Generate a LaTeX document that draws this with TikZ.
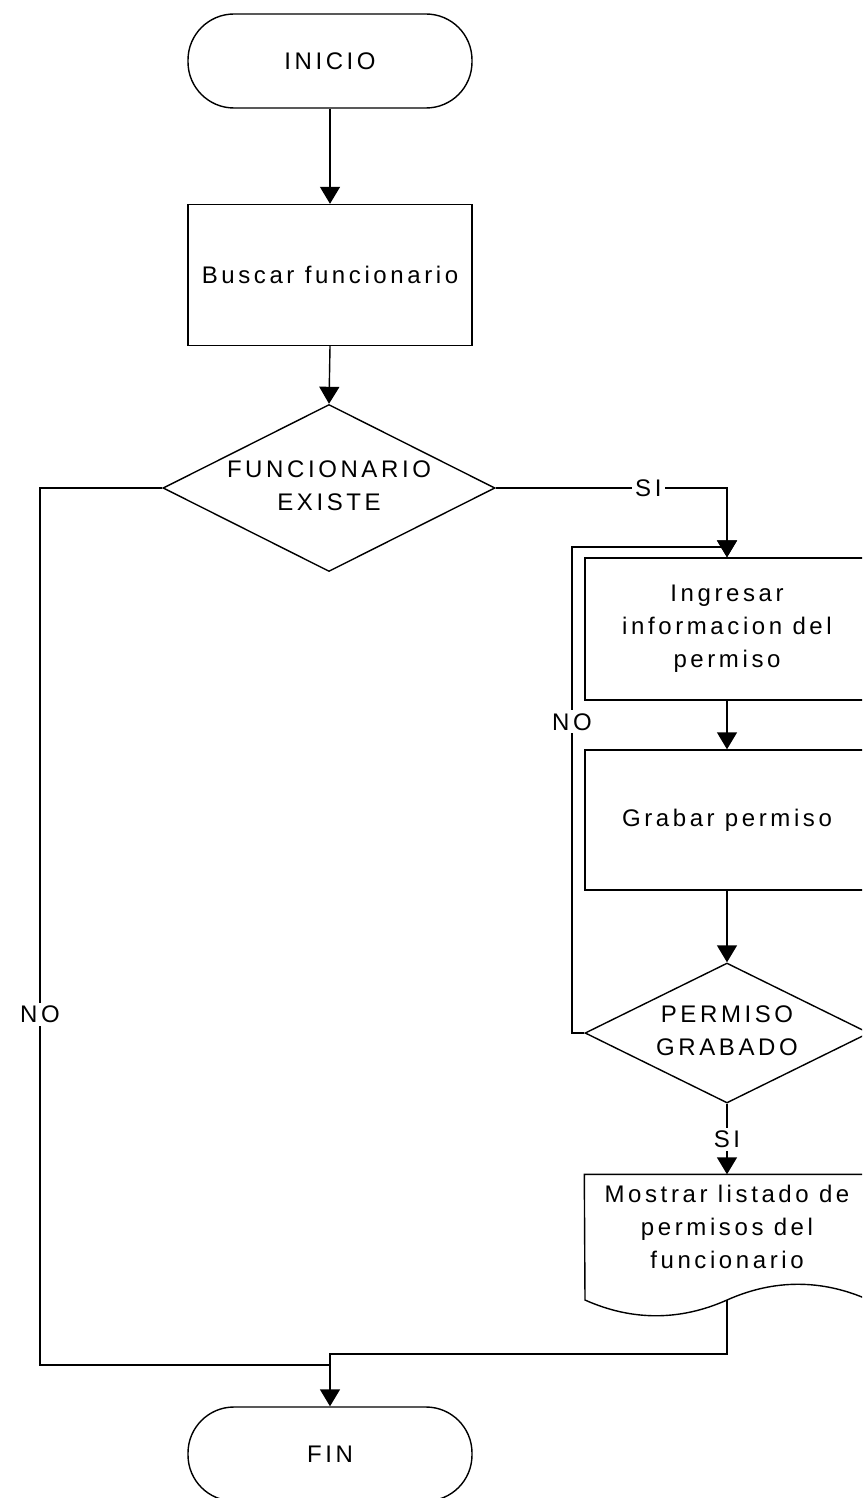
\documentclass[tikz,border=0pt]{standalone}
\usepackage{fontspec}
\setmainfont{Liberation Sans}[LetterSpace=15]
\usetikzlibrary{shapes.geometric,arrows.meta}
\begin{document}
\begin{tikzpicture}[x=1pt,y=-1pt,
  line width=1.4pt,
  every node/.style={font=\fontsize{24}{33}\selectfont},
  term/.style={draw, rectangle, rounded corners=46pt, minimum width=284pt, minimum height=94pt, inner sep=0pt},
  procbox/.style={draw, rectangle, minimum width=284pt, inner sep=0pt, align=center},
  dia/.style={draw, diamond, inner sep=0pt},
  txt/.style={align=center, inner sep=0pt},
  lab/.style={fill=white, inner sep=3pt},
  arr/.style={-{Triangle[width=20pt,length=17pt]}}
]
\useasboundingbox (0,0) rectangle (862,1498);
\clip (0,0) rectangle (862,1498);
% nodes
\node[term] (ini) at (330,61) {INICIO};
\node[procbox, minimum height=141pt] (bus) at (330,275) {Buscar funcionario};
\node[dia, minimum width=332pt, minimum height=167pt] (d1) at (329,488) {};
\node[txt] (d1t) at (329,486) {FUNCIONARIO\\EXISTE};
\node[procbox, minimum height=142pt] (ing) at (727,629) {Ingresar\\informacion del\\permiso};
\node[procbox, minimum height=140pt] (gra) at (727,820) {Grabar permiso};
\node[dia, minimum width=284pt, minimum height=140pt] (d2) at (727,1033) {};
\node[txt] (d2t) at (727,1031) {PERMISO\\GRABADO};
\node[minimum width=284pt, minimum height=125pt, inner sep=0pt] (doc) at (727,1237.5) {};
\node[txt] (doct) at (727,1227) {Mostrar listado de\\permisos del\\funcionario};
\node[term] (fin) at (330,1454) {FIN};
% document shape
\coordinate (docb) at (727,1300);
\draw (doc.north west) -- (585,1300)
  .. controls (632,1321) and (680,1321) .. (docb)
  .. controls (774,1279) and (822,1279) .. (869,1300)
  -- (doc.north east) -- cycle;
% connectors
\draw[arr] (ini.south) -- (bus.north);
\draw[arr] (bus.south) -- (d1.north);
\coordinate (cl) at (40,488);
\coordinate (jl) at (330,1365);
\draw (d1.west) -- (cl) |- node[lab, pos=0.3]{NO} (jl);
\coordinate (jr) at (727,1354);
\draw[arr] (docb) -- (jr) -| (fin.north);
\draw[arr] (d1.east) -| node[lab, pos=0.33]{SI} (ing.north);
\coordinate (lb) at (572,1033);
\coordinate (lt) at (727,547);
\draw[arr] (d2.west) -- (lb) |- node[lab, pos=0.32]{NO} (lt) -- (ing.north);
\draw[arr] (ing.south) -- (gra.north);
\draw[arr] (gra.south) -- (d2.north);
\draw[arr] (d2.south) -- node[lab]{SI} (doc.north);
\end{tikzpicture}
\end{document}
